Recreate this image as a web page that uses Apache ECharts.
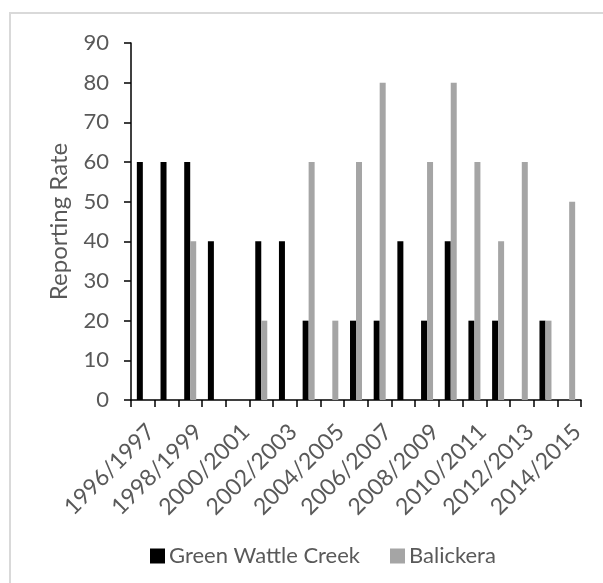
<!DOCTYPE html>
<html>
<head>
<meta charset="utf-8">
<script src="https://cdn.jsdelivr.net/npm/echarts@6/dist/echarts.min.js"></script>
<style>
html,body{margin:0;padding:0;background:#fff;}
#chart{width:603px;height:583px;}
</style>
</head>
<body>
<div id="chart"></div>
<script>
var categories = ["1996/1997","1997/1998","1998/1999","1999/2000","2000/2001","2001/2002","2002/2003","2003/2004","2004/2005","2005/2006","2006/2007","2007/2008","2008/2009","2009/2010","2010/2011","2011/2012","2012/2013","2013/2014","2014/2015"];
var greenWattleCreek = [60,60,60,40,0,40,40,20,0,20,20,40,20,40,20,20,0,20,0];
var balickera = [0,0,40,0,0,20,0,60,20,60,80,0,60,80,60,40,60,20,50];
var yTicks = {min:0, max:90, interval:10};

var FONT = 'Lato';
var TXT = '#595959';
var chart = echarts.init(document.getElementById('chart'), null, {renderer:'canvas'});
chart.setOption({
  animation:false,
  backgroundColor:'#ffffff',
  textStyle:{fontFamily:FONT},
  graphic:[{type:'rect', silent:true, z:-10, shape:{x:10,y:13,width:640,height:640}, style:{fill:'none', stroke:'#d9d9d9', lineWidth:2}}],
  grid:{left:131, top:43, width:450, height:357, containLabel:false},
  legend:{
    top:540, left:145, itemWidth:15, itemHeight:15, itemGap:30, icon:'rect',
    textStyle:{color:TXT, fontSize:22, fontFamily:FONT, padding:[0,0,0,-1]},
    data:['Green Wattle Creek','Balickera']
  },
  xAxis:{
    type:'category', data:categories, boundaryGap:true,
    axisLine:{lineStyle:{color:'#000', width:1.5}},
    axisTick:{show:true, interval:0, length:7, lineStyle:{color:'#000', width:1.5}, alignWithLabel:false},
    axisLabel:{interval:1, rotate:45, margin:20, align:'right', verticalAlign:'top', color:TXT, fontSize:23, fontFamily:FONT}
  },
  yAxis:{
    type:'value', min:yTicks.min, max:yTicks.max, interval:yTicks.interval,
    name:'Reporting Rate', nameLocation:'middle', nameGap:60, nameRotate:90,
    nameTextStyle:{color:TXT, fontSize:24, fontFamily:FONT},
    splitLine:{show:false},
    axisLine:{show:true, lineStyle:{color:'#000', width:1.5}},
    axisTick:{show:true, length:7, lineStyle:{color:'#000', width:1.5}},
    axisLabel:{margin:22, color:TXT, fontSize:22, fontFamily:FONT}
  },
  series:[
    {name:'Green Wattle Creek', type:'bar', data:greenWattleCreek, barWidth:6, barGap:'0%', itemStyle:{color:'#000000'}},
    {name:'Balickera', type:'bar', data:balickera, barWidth:6, barGap:'0%', itemStyle:{color:'#a5a5a5'}}
  ]
});
</script>
</body>
</html>
